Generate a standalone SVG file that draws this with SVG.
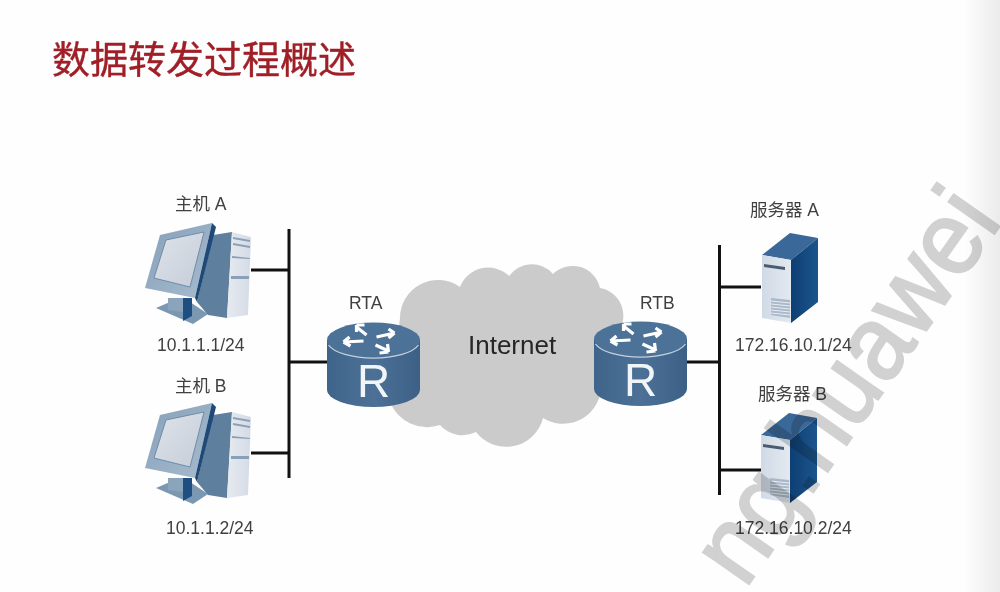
<svg xmlns="http://www.w3.org/2000/svg" xmlns:xlink="http://www.w3.org/1999/xlink" width="1000" height="592" viewBox="0 0 1000 592">
<style>
.lb{font-family:"Liberation Sans","Noto Sans CJK SC",sans-serif;font-size:17.5px;fill:#404040}
.ln{stroke:#111;stroke-width:3;fill:none}
</style>
<defs>
<linearGradient id="edge" x1="0" x2="1" y1="0" y2="0"><stop offset="0" stop-color="#fff"/><stop offset="1" stop-color="#ebebeb"/></linearGradient>
<linearGradient id="rb" x1="0" x2="1" y1="0" y2="0"><stop offset="0" stop-color="#3f648a"/><stop offset=".5" stop-color="#4d7196"/><stop offset="1" stop-color="#3c6086"/></linearGradient>
<linearGradient id="sc" x1="0" x2="1" y1="0" y2="1"><stop offset="0" stop-color="#dfe3ea"/><stop offset="1" stop-color="#c5cdd8"/></linearGradient>
<linearGradient id="mon" x1="0" x2="1" y1="0" y2="1"><stop offset="0" stop-color="#86a0ba"/><stop offset="1" stop-color="#a7bbcd"/></linearGradient>
<linearGradient id="tw" x1="0" x2="1" y1="0" y2="0"><stop offset="0" stop-color="#e6eaf0"/><stop offset="1" stop-color="#d5dbe6"/></linearGradient>
<linearGradient id="sf" x1="0" x2="1" y1="0" y2="0"><stop offset="0" stop-color="#d0dae6"/><stop offset="1" stop-color="#e3e9f0"/></linearGradient>
<linearGradient id="ss" x1="0" x2="1" y1="0" y2="0"><stop offset="0" stop-color="#0d3f73"/><stop offset="1" stop-color="#1c558c"/></linearGradient>
<g id="pc">
<path d="M156 308L170 302L190 302L208 314L193 324Z" fill="#7b98b3"/>
<path d="M168 298h15v14l-15-2Z" fill="#8aa4bc"/>
<path d="M183 298h9v18l-9 5Z" fill="#1f4f80"/>
<path d="M213 235L232 232L227 318L208 315L197 302L212 240Z" fill="#5f7f9f"/>
<path d="M232 232L251 237L248 315L227 318Z" fill="url(#tw)"/>
<path d="M233 237l17 3v2l-17-3ZM233 243l17 3v2l-17-3ZM232 256l18 2v1l-18-1ZM231 276l18 0v3l-18 0Z" fill="#8ba0b6"/>
<path d="M160 235L212 223L195 298L145 288Z" fill="url(#mon)"/>
<path d="M212 223L216 227L197 302L195 298Z" fill="#1f4a78"/>
<path d="M166 240L204 232L190 287L154 278Z" fill="url(#sc)" stroke="#5f7f9f" stroke-width=".8"/>
</g>
<g id="srv">
<path d="M762 255L790 233L818 238L791 260Z" fill="#3a6898"/>
<path d="M762 255L791 260L791 323L762 318Z" fill="url(#sf)"/>
<path d="M791 260L818 238L818 302L791 323Z" fill="url(#ss)"/>
<path d="M764 264L785 267v3L764 267Z" fill="#4b5c70"/>
<path d="M771 298L790 300v18L771 315Z" fill="#a9b9ca"/>
<path d="M771 301L790 303M771 304L790 306M771 307L790 309M771 310L790 312M771 313L790 315" stroke="#e8edf3" stroke-width="1"/>
</g>
<g id="rt">
<path d="M-46.500 0V50A46.500 17 0 0 0 46.500 50V0Z" fill="url(#rb)"/>
<ellipse cx="0" cy="0" rx="46.500" ry="17.500" fill="#4d7297"/>
<path d="M-45 5A46.500 17.500 0 0 0 45 5" fill="none" stroke="#c4d2df" stroke-width="1.300"/>
<path d="M-7 -5L-17 -13M-17 -15L-9 -15M-17 -15L-17 -8M3 -3L21 -7M21 -7L15 -11M21 -7L15 -2M-10 1L-30 2M-30 2L-24 -3M-30 2L-23 6M2 5L15 11M15 12L14 4M15 12L6 13" fill="none" stroke="#fff" stroke-width="3.200"/>
<text x="0" y="57" text-anchor="middle" font-family="'Liberation Sans',sans-serif" font-size="46" fill="#f2f5f8">R</text>
</g>
</defs>
<rect width="1000" height="592" fill="#fefefe"/>
<rect x="962" y="0" width="38" height="592" fill="url(#edge)"/>
<text id="title" x="52" y="73" font-family="'Noto Sans CJK SC','Liberation Sans',sans-serif" font-size="38" fill="#a01f27" stroke="#a01f27" stroke-width=".4">数据转发过程概述</text>
<g id="cloud">
<path fill="#cbcbcb" d="M400 318A38 38 0 0 1 460 287A30 30 0 0 1 509 276A28 28 0 0 1 553 274A28 28 0 0 1 600 288A28 28 0 0 1 618 332L600 395A38 38 0 0 1 543 418A38 38 0 0 1 476 432A30 30 0 0 1 440 425A40 40 0 0 1 390 402Z"/>
</g>
<text class="lb" x="468" y="354" style="font-size:26px;fill:#262626">Internet</text>
<g id="connectors" class="ln">
<path d="M289 229V478M251 270H289M251 453H289M289 362H328"/>
<path d="M719.500 245V495M721 287H761M721 470H761M686 362H719"/>
</g>
<g id="hostA"><use xlink:href="#pc" href="#pc"/><text class="lb" x="175" y="210">主机 A</text><text class="lb" x="157" y="351">10.1.1.1/24</text></g>
<g id="hostB"><use xlink:href="#pc" href="#pc" y="180"/><text class="lb" x="175" y="392">主机 B</text><text class="lb" x="166" y="534">10.1.1.2/24</text></g>
<g id="RTA"><use xlink:href="#rt" href="#rt" x="373.500" y="340"/><text class="lb" x="349" y="309">RTA</text></g>
<g id="RTB"><use xlink:href="#rt" href="#rt" x="640.500" y="339"/><text class="lb" x="640" y="309">RTB</text></g>
<g id="serverA"><use xlink:href="#srv" href="#srv"/><text class="lb" x="750" y="216">服务器 A</text><text class="lb" x="735" y="351">172.16.10.1/24</text></g>
<g id="serverB"><use xlink:href="#srv" href="#srv" x="-1" y="180"/><text class="lb" x="758" y="400">服务器 B</text><text class="lb" x="735" y="534">172.16.10.2/24</text></g>
<text id="watermark" transform="translate(1003,221) rotate(-55) scale(.94,1)" text-anchor="end" font-family="'Liberation Sans',sans-serif" font-size="105" fill="#d2d2d2" stroke="#d2d2d2" stroke-width="2.500" style="mix-blend-mode:multiply">ng.huawei</text>
</svg>
